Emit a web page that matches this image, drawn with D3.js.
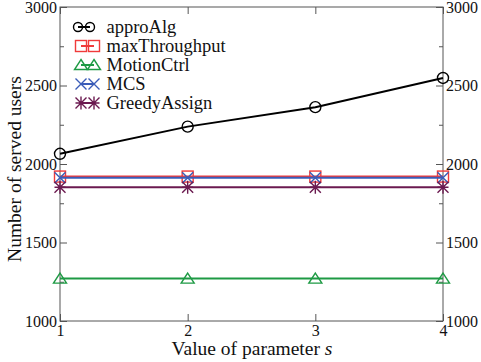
<!DOCTYPE html>
<html>
<head>
<meta charset="utf-8">
<script src="https://cdn.jsdelivr.net/npm/d3@7"></script>
<style>
  html, body { margin: 0; padding: 0; background: #fff; }
  svg text { font-family: "Liberation Serif", "Times New Roman", Times, "DejaVu Serif", serif !important; }
</style>
</head>
<body>
<svg id="chart" width="481" height="362"></svg>
<script>
// Parameter s on the x axis
const sValues = [1, 2, 3, 4];

// Number of served users per algorithm
const approAlg      = [2065, 2238, 2362, 2548];
const maxThroughput = [1920, 1920, 1920, 1920];
const motionCtrl    = [1270, 1270, 1270, 1270];
const mcs           = [1912, 1912, 1912, 1912];
const greedyAssign  = [1852, 1852, 1852, 1852];

const seriesNames  = ["approAlg", "maxThroughput", "MotionCtrl", "MCS", "GreedyAssign"];
const seriesValues = [approAlg, maxThroughput, motionCtrl, mcs, greedyAssign];
const seriesColors = ["#000000", "#f03a3a", "#1e9a44", "#3a5cb8", "#6b1a50"];
const seriesMarks  = ["circle", "square", "triangle", "x", "star"];

const yTicks = [1000, 1500, 2000, 2500, 3000];
const yMinorTicks = [1250, 1750, 2250, 2750];

const svg = d3.select("#chart");
const plot = { left: 60, right: 443, top: 7, bottom: 321 };

const x = d3.scaleLinear().domain([1, 4]).range([plot.left, plot.right]);
const y = d3.scaleLinear().domain([1000, 3000]).range([plot.bottom, plot.top]);

const axisColor = "#555";
const fontSize = 16;

// Frame
svg.append("rect")
  .attr("x", plot.left).attr("y", plot.top)
  .attr("width", plot.right - plot.left).attr("height", plot.bottom - plot.top)
  .attr("fill", "none").attr("stroke", axisColor).attr("stroke-width", 1);

// Axes: ticks drawn inward
function styleAxis(g) {
  g.attr("font-family", null);
  g.select(".domain").remove();
  g.selectAll(".tick line").attr("stroke", axisColor);
  g.selectAll(".tick text").attr("fill", "#111").attr("font-size", fontSize);
}

svg.append("g").attr("transform", `translate(0,${plot.bottom})`)
  .call(d3.axisBottom(x).tickValues(sValues).tickFormat(d3.format("d")).tickSizeInner(-7).tickPadding(4))
  .call(styleAxis);
svg.append("g").attr("transform", `translate(0,${plot.top})`)
  .call(d3.axisTop(x).tickValues(sValues).tickFormat("").tickSizeInner(-7))
  .call(styleAxis);

svg.append("g").attr("transform", `translate(${plot.left},0)`)
  .call(d3.axisLeft(y).tickValues(yTicks).tickFormat(d3.format("d")).tickSizeInner(-7).tickPadding(3))
  .call(styleAxis)
  .call(g => g.selectAll(".tick text").attr("x", -3));
svg.append("g").attr("transform", `translate(${plot.right},0)`)
  .call(d3.axisRight(y).tickValues(yTicks).tickFormat(d3.format("d")).tickSizeInner(-7).tickPadding(3))
  .call(styleAxis)
  .call(g => g.selectAll(".tick text").attr("x", 3));
svg.append("g").attr("transform", `translate(${plot.left},0)`)
  .call(d3.axisLeft(y).tickValues(yMinorTicks).tickFormat("").tickSizeInner(-4))
  .call(styleAxis);
svg.append("g").attr("transform", `translate(${plot.right},0)`)
  .call(d3.axisRight(y).tickValues(yMinorTicks).tickFormat("").tickSizeInner(-4))
  .call(styleAxis);

// Axis titles
svg.append("text")
  .attr("x", 252).attr("y", 355)
  .attr("text-anchor", "middle").attr("font-size", 19.5).attr("fill", "#111")
  .html('Value of parameter <tspan font-style="italic">s</tspan>');
svg.append("text")
  .attr("transform", `translate(21,169) rotate(-90)`)
  .attr("text-anchor", "middle").attr("font-size", 19.5).attr("fill", "#111")
  .text("Number of served users");

// Marker drawing
function drawMarker(g, kind, cx, cy, color, r) {
  const s = g.append("g").attr("transform", `translate(${cx},${cy})`)
    .attr("fill", "none").attr("stroke", color).attr("stroke-width", 1.4);
  if (kind === "circle") {
    s.append("circle").attr("r", r);
  } else if (kind === "square") {
    s.append("rect").attr("x", -r).attr("y", -r).attr("width", 2 * r).attr("height", 2 * r);
  } else if (kind === "triangle") {
    s.append("path").attr("d", `M0,${-r}L${r + 1},${r - 1}L${-r - 1},${r - 1}Z`);
  } else if (kind === "x") {
    s.append("path").attr("d", `M${-r},${-r}L${r},${r}M${-r},${r}L${r},${-r}`);
  } else if (kind === "star") {
    s.append("path").attr("d", `M${-r},${-r}L${r},${r}M${-r},${r}L${r},${-r}M0,${-r - 1}L0,${r + 1}M${-r},0L${r},0`);
  }
}

const line = d3.line().x((d, i) => x(sValues[i])).y(d => y(d));

// Series lines and markers
seriesValues.forEach((vals, k) => {
  const g = svg.append("g");
  g.append("path").datum(vals)
    .attr("d", line).attr("fill", "none")
    .attr("stroke", seriesColors[k]).attr("stroke-width", 2);
  vals.forEach((v, i) => drawMarker(g, seriesMarks[k], x(sValues[i]), y(v), seriesColors[k], 5.5));
});

// Legend
const legend = svg.append("g");
seriesNames.forEach((name, k) => {
  const ly = 27 + k * 19;
  const round = seriesMarks[k] === "circle";
  const x1 = round ? 78 : 81, x2 = round ? 90 : 94;
  legend.append("line")
    .attr("x1", x1).attr("x2", x2).attr("y1", ly).attr("y2", ly)
    .attr("stroke", seriesColors[k]).attr("stroke-width", 2);
  drawMarker(legend, seriesMarks[k], x1, ly, seriesColors[k], round ? 4.5 : 5.5);
  drawMarker(legend, seriesMarks[k], x2, ly, seriesColors[k], round ? 4.5 : 5.5);
  legend.append("text")
    .attr("x", 106.5).attr("y", ly + 6)
    .attr("font-size", 18.5).attr("fill", "#111").text(name);
});
</script>
</body>
</html>
